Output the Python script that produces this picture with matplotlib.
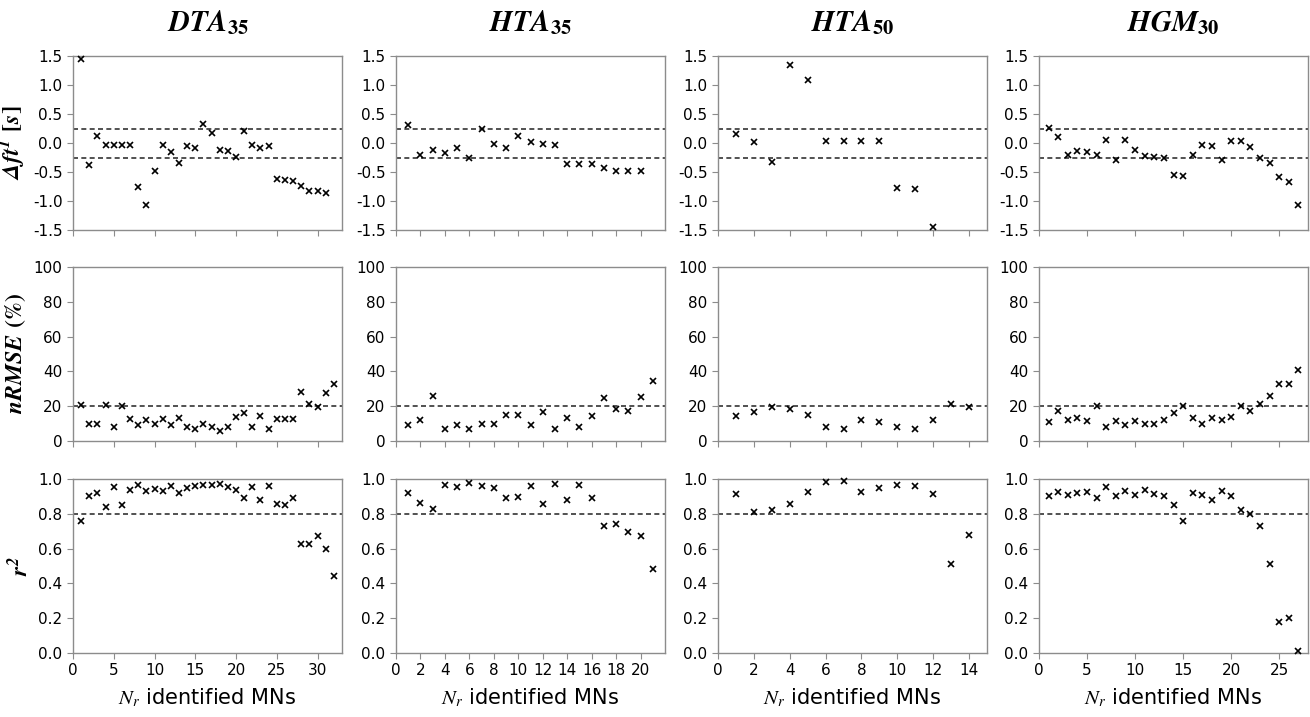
import numpy as np
import matplotlib.pyplot as plt

plt.rcParams['font.family'] = 'DejaVu Sans'
plt.rcParams['mathtext.fontset'] = 'stix'

# muscle / condition names for the column titles
titles = [r'$\mathbfit{DTA}_{\mathbf{35}}$', r'$\mathbfit{HTA}_{\mathbf{35}}$',
          r'$\mathbfit{HTA}_{\mathbf{50}}$', r'$\mathbfit{HGM}_{\mathbf{30}}$']

# delta ft1 [s]
dft_dta35 = [1.45, -0.38, 0.12, -0.03, -0.03, -0.03, -0.04, -0.75, -1.07, -0.49,
             -0.04, -0.15, -0.34, -0.06, -0.09, 0.33, 0.18, -0.12, -0.14, -0.24,
             0.21, -0.04, -0.09, -0.05, -0.62, -0.64, -0.65, -0.74, -0.82, -0.82, -0.86]
dft_hta35 = [0.31, -0.21, -0.12, -0.17, -0.09, -0.26, 0.24, -0.02, -0.09, 0.12,
             0.02, -0.01, -0.04, -0.37, -0.37, -0.37, -0.43, -0.48, -0.48, -0.49]
dft_hta50 = [0.16, 0.01, -0.32, 1.35, 1.09, 0.04, 0.04, 0.04, 0.04, -0.78, -0.79, -1.45]
dft_hgm30 = [0.26, 0.10, -0.21, -0.14, -0.16, -0.21, 0.06, -0.30, 0.06, -0.12,
             -0.23, -0.24, -0.25, -0.55, -0.57, -0.20, -0.03, -0.05, -0.30, 0.03,
             0.03, -0.07, -0.25, -0.35, -0.58, -0.67, -1.07]

# nRMSE (%)
nrmse_dta35 = [20.6, 10, 10, 20.6, 8, 20, 12.9, 9, 12.3, 10, 12.9, 9, 13.3, 8, 7,
               10, 8, 6, 8, 13.9, 16, 8, 14.6, 7, 12.9, 12.9, 12.9, 28.1, 21, 19.5,
               27.7, 32.8]
nrmse_hta35 = [9, 12.3, 25.6, 7, 9, 7, 10, 10, 14.8, 15.2, 9, 16.6, 7, 13.3, 8,
               14.3, 24.5, 18.5, 17.1, 25.4, 34.7]
nrmse_hta50 = [14.1, 16.4, 19.3, 18.3, 14.8, 8, 7, 12.3, 11, 8, 7, 12.3, 21.4, 19.5]
nrmse_hgm30 = [11.2, 17.4, 11.8, 13.2, 11.6, 20.3, 8, 11.6, 9, 11.6, 10, 10, 12,
               16, 20, 13, 10, 13, 12, 14, 20, 17, 21, 26, 33, 33, 41]

# r^2
r2_dta35 = [0.756, 0.904, 0.917, 0.838, 0.954, 0.848, 0.938, 0.963, 0.929, 0.944,
            0.931, 0.958, 0.919, 0.948, 0.958, 0.965, 0.965, 0.971, 0.954, 0.935,
            0.888, 0.954, 0.877, 0.962, 0.858, 0.852, 0.892, 0.625, 0.627, 0.673,
            0.596, 0.442]
r2_hta35 = [0.921, 0.861, 0.830, 0.965, 0.956, 0.975, 0.959, 0.950, 0.890, 0.898,
            0.959, 0.859, 0.973, 0.880, 0.965, 0.890, 0.730, 0.739, 0.697, 0.674, 0.483]
r2_hta50 = [0.915, 0.813, 0.824, 0.859, 0.927, 0.983, 0.986, 0.927, 0.946, 0.965,
            0.961, 0.913, 0.514, 0.678]
r2_hgm30 = [0.903, 0.927, 0.909, 0.919, 0.923, 0.890, 0.956, 0.900, 0.932, 0.909,
            0.938, 0.913, 0.90, 0.85, 0.76, 0.92, 0.91, 0.88, 0.93, 0.90, 0.82,
            0.80, 0.73, 0.51, 0.18, 0.20, 0.01]

rows = [
    [dft_dta35, dft_hta35, dft_hta50, dft_hgm30],
    [nrmse_dta35, nrmse_hta35, nrmse_hta50, nrmse_hgm30],
    [r2_dta35, r2_hta35, r2_hta50, r2_hgm30],
]
ylabels = [r'$\mathbfit{\Delta ft^{1}}$ $\mathbf{[}\mathbfit{s}\mathbf{]}$',
           r'$\mathbfit{nRMSE}$ $\mathbf{(\%)}$',
           r'$\mathbfit{r^{2}}$']
ylims = [(-1.5, 1.5), (0, 100), (0, 1.0)]
yticks = [np.arange(-1.5, 1.51, 0.5), np.arange(0, 101, 20), np.arange(0, 1.01, 0.2)]
yfmt = ['{:.1f}', '{:.0f}', '{:.1f}']
thresholds = [[-0.25, 0.25], [20], [0.8]]

xmax = [33, 22, 15, 28]
xstep = [5, 2, 2, 5]

fig = plt.figure(figsize=(13.1, 7.17), dpi=100)
lefts = [73, 396, 718, 1039]
tops = [56, 267, 479]
W, H = 269, 174
frame = '#8c8c8c'

for r in range(3):
    for c in range(4):
        ax = fig.add_axes([lefts[c] / 1310, 1 - (tops[r] + H) / 717, W / 1310, H / 717])
        y = rows[r][c]
        x = np.arange(1, len(y) + 1)
        ax.plot(x, y, 'x', color='black', markersize=5, mew=1.2, clip_on=False, zorder=3)
        for t in thresholds[r]:
            ax.axhline(t, color='#333333', ls=(0, (3, 2)), lw=1.2)
        ax.set_xlim(0, xmax[c])
        ax.set_ylim(*ylims[r])
        ax.set_yticks(yticks[r])
        ax.set_yticklabels([yfmt[r].format(v) for v in yticks[r]])
        ax.set_xticks(np.arange(0, xmax[c], xstep[c]))
        if r == 2:
            ax.set_xlabel(r'$N_r$ identified MNs', fontsize=15, labelpad=6)
        else:
            ax.set_xticklabels([])
        for s in ax.spines.values():
            s.set_color(frame)
            s.set_linewidth(1.0)
        ax.tick_params(colors=frame, labelcolor='black', labelsize=11, length=4, width=0.8)
        if c == 0:
            ax.set_ylabel(ylabels[r], fontsize=17, labelpad=4)
        if r == 0:
            ax.set_title(titles[c], fontsize=21, pad=18)

fig.savefig('out.png', dpi=100)
